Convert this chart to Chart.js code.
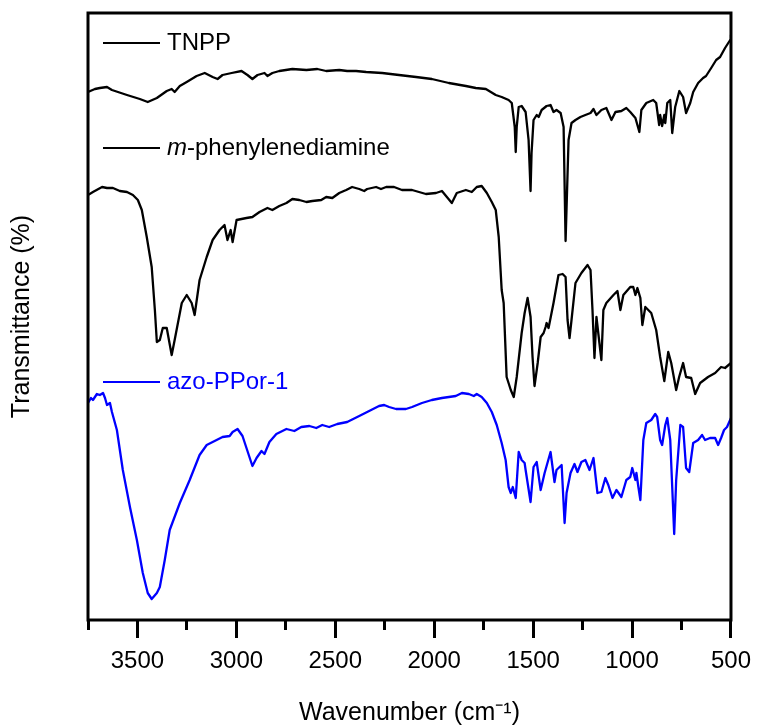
<!DOCTYPE html>
<html>
<head>
<meta charset="utf-8">
<title>FTIR spectra</title>
<script src="https://cdn.jsdelivr.net/npm/chart.js@4.4.1/dist/chart.umd.min.js"></script>
<style>
    html, body { margin: 0; padding: 0; background: #fff; }
    #wrap { width: 760px; height: 728px; }
</style>
</head>
<body>
<div id="wrap"><canvas id="irChart" width="760" height="728"></canvas></div>
<script>
const FONT = "'Liberation Sans', Arial, sans-serif";

// Axis ticks (wavenumber, cm-1)
const majorTicks = [3500, 3000, 2500, 2000, 1500, 1000, 500];
const minorTicks = [3750, 3250, 2750, 2250, 1750, 1250, 750];

// TNPP spectrum (offset transmittance, a.u.)
const tnppWavenumber = [3750, 3715, 3690, 3654, 3629, 3553, 3488, 3448, 3402, 3352, 3327, 3312, 3286, 3251, 3201, 3160, 3120, 3095, 3070, 3024,
    2974, 2944, 2919, 2893, 2858, 2843, 2818, 2783, 2717, 2646, 2591, 2546, 2480, 2440, 2395, 2344, 2263, 2178, 2092, 2012,
    1926, 1840, 1790, 1739, 1689, 1659, 1624, 1608, 1593, 1588, 1583, 1573, 1558, 1538, 1523, 1513, 1508, 1498, 1482, 1472,
    1457, 1432, 1412, 1397, 1382, 1361, 1346, 1336, 1321, 1306, 1286, 1261, 1236, 1210, 1195, 1180, 1155, 1130, 1104, 1084,
    1054, 1029, 1009, 983, 963, 953, 928, 893, 878, 863, 858, 848, 837, 832, 822, 807, 797, 782, 761, 742,
    727, 706, 691, 666, 641, 626, 600, 575, 555, 530, 504, 500];
const tnppT = [52.8, 53.1, 53.2, 53.3, 53.0, 52.5, 52.1, 51.8, 52.2, 52.9, 53.1, 52.8, 53.4, 53.8, 54.4, 54.7, 54.3, 54.1, 54.5, 54.7,
    54.9, 54.5, 54.1, 54.5, 54.7, 54.4, 54.7, 54.9, 55.1, 55.0, 55.1, 54.9, 55.0, 54.9, 54.9, 54.8, 54.7, 54.5, 54.3, 54.1,
    53.7, 53.4, 53.2, 53.1, 52.5, 52.3, 52.0, 51.7, 49.3, 46.8, 49.3, 51.3, 51.4, 50.8, 48.0, 42.9, 46.7, 50.0, 50.5, 50.3,
    51.0, 51.4, 51.5, 50.8, 51.0, 50.7, 49.3, 37.9, 48.0, 49.7, 50.0, 50.3, 50.5, 50.7, 51.1, 50.5, 51.0, 51.2, 50.0, 50.8,
    50.9, 51.2, 50.8, 50.2, 48.8, 51.0, 51.7, 52.0, 51.7, 49.5, 50.5, 49.4, 50.5, 49.7, 51.7, 52.0, 48.7, 51.3, 52.9, 52.3,
    50.7, 51.7, 52.8, 53.7, 54.2, 54.4, 55.2, 56.0, 56.3, 57.2, 58.0, 58.5];

// m-phenylenediamine spectrum
const mpdWavenumber = [3750, 3725, 3679, 3654, 3624, 3589, 3553, 3523, 3498, 3478, 3453, 3428, 3412, 3402, 3387, 3372, 3352, 3327, 3312, 3276,
    3251, 3226, 3211, 3186, 3150, 3120, 3085, 3060, 3045, 3029, 3019, 2999, 2949, 2919, 2883, 2843, 2818, 2783, 2747, 2717,
    2682, 2646, 2616, 2571, 2546, 2515, 2480, 2445, 2415, 2379, 2354, 2339, 2294, 2269, 2243, 2203, 2163, 2112, 2042, 1991,
    1961, 1936, 1911, 1886, 1840, 1810, 1785, 1760, 1734, 1709, 1689, 1674, 1659, 1649, 1634, 1613, 1598, 1583, 1558, 1543,
    1528, 1513, 1503, 1493, 1477, 1462, 1447, 1437, 1432, 1422, 1397, 1372, 1351, 1336, 1326, 1316, 1306, 1286, 1256, 1225,
    1210, 1200, 1190, 1180, 1165, 1155, 1145, 1130, 1094, 1074, 1059, 1044, 1009, 994, 983, 973, 958, 948, 933, 903,
    878, 858, 837, 817, 802, 777, 762, 742, 727, 701, 681, 656, 616, 580, 550, 530, 500];
const mpdT = [42.5, 42.8, 43.3, 43.2, 43.2, 42.9, 42.8, 42.5, 42.0, 41.0, 38.3, 35.3, 31.0, 27.8, 28.0, 29.2, 29.2, 26.5, 28.0, 31.7,
    32.5, 31.7, 30.5, 34.0, 36.3, 38.0, 39.0, 39.5, 38.0, 39.0, 37.8, 40.0, 40.2, 40.3, 40.8, 41.2, 41.0, 41.4, 41.7, 42.1,
    42.0, 41.8, 41.9, 42.0, 42.3, 42.2, 42.7, 43.0, 43.3, 43.1, 42.9, 43.1, 43.3, 43.1, 43.3, 43.3, 43.0, 43.0, 42.6, 42.7,
    42.9, 42.3, 41.7, 42.7, 43.0, 42.8, 43.3, 43.4, 42.7, 41.8, 41.0, 38.3, 33.0, 31.7, 24.3, 23.0, 22.3, 24.3, 28.7, 30.7,
    32.2, 30.3, 26.3, 23.4, 25.7, 28.3, 28.7, 29.3, 29.7, 29.2, 31.7, 34.5, 34.6, 34.3, 30.0, 28.2, 30.0, 33.7, 34.7, 35.5,
    35.0, 31.0, 26.2, 30.3, 27.7, 26.0, 31.0, 31.7, 32.5, 32.9, 31.0, 32.5, 33.3, 33.3, 32.5, 33.2, 32.2, 29.5, 31.3, 30.7,
    29.0, 26.3, 23.9, 26.8, 25.7, 23.0, 24.3, 25.7, 24.3, 24.2, 22.6, 23.7, 24.3, 24.7, 25.3, 25.2, 25.7];

// azo-PPor-1 spectrum
const azoWavenumber = [3750, 3735, 3725, 3705, 3690, 3674, 3664, 3654, 3639, 3629, 3604, 3574, 3538, 3503, 3473, 3448, 3428, 3402, 3387, 3362,
    3337, 3286, 3236, 3186, 3150, 3100, 3070, 3034, 3019, 2994, 2969, 2949, 2919, 2898, 2873, 2858, 2833, 2798, 2747, 2707,
    2672, 2631, 2596, 2566, 2531, 2490, 2440, 2379, 2329, 2279, 2253, 2228, 2193, 2143, 2112, 2062, 2012, 1961, 1926, 1891,
    1860, 1825, 1800, 1785, 1760, 1734, 1709, 1684, 1659, 1639, 1624, 1613, 1603, 1588, 1573, 1558, 1543, 1538, 1513, 1498,
    1482, 1462, 1442, 1412, 1392, 1382, 1356, 1341, 1331, 1311, 1291, 1276, 1256, 1236, 1215, 1195, 1175, 1155, 1135, 1120,
    1099, 1079, 1054, 1029, 1009, 999, 983, 978, 968, 958, 943, 928, 903, 883, 873, 858, 848, 832, 822, 807,
    787, 777, 756, 742, 727, 711, 691, 666, 646, 631, 606, 580, 565, 550, 535, 520, 500];
const azoT = [21.7, 22.2, 22.0, 22.6, 22.5, 22.7, 22.2, 21.5, 21.7, 20.8, 19.0, 15.0, 11.3, 8.0, 4.7, 2.7, 2.1, 2.7, 3.3, 6.0,
    9.0, 11.7, 14.0, 16.5, 17.5, 18.0, 18.3, 18.4, 18.8, 19.1, 18.4, 17.2, 15.4, 16.2, 16.9, 16.6, 17.8, 18.6, 19.1, 18.9,
    19.3, 19.4, 19.2, 19.5, 19.3, 19.6, 19.8, 20.4, 20.9, 21.4, 21.5, 21.3, 21.1, 21.1, 21.3, 21.7, 22.0, 22.2, 22.3, 22.4,
    22.7, 22.6, 22.4, 22.6, 22.3, 21.7, 20.8, 19.5, 17.7, 16.0, 13.3, 12.7, 13.3, 12.2, 16.8, 16.0, 15.7, 15.0, 11.8, 15.3,
    15.8, 13.0, 14.7, 16.8, 13.8, 15.0, 15.5, 9.7, 12.7, 14.7, 15.6, 14.8, 15.8, 16.0, 15.0, 16.2, 12.7, 12.8, 14.2, 13.5,
    12.2, 13.0, 12.3, 14.0, 14.3, 15.2, 14.0, 14.7, 13.3, 12.0, 18.0, 19.7, 20.0, 20.6, 20.3, 18.0, 17.5, 19.5, 20.2, 18.0,
    8.6, 14.0, 19.5, 19.3, 15.2, 14.8, 17.7, 18.0, 18.5, 18.0, 18.2, 18.2, 17.5, 18.2, 19.0, 19.3, 20.2];

function toPoints(xs, ys) {
    return xs.map((x, i) => ({ x: x, y: ys[i] }));
}

// Box round the plot area
const framePlugin = {
    id: 'frame',
    afterDraw(chart) {
        const { ctx, chartArea: a } = chart;
        ctx.save();
        ctx.lineWidth = 3;
        ctx.strokeStyle = '#000';
        ctx.strokeRect(a.left, a.top, a.right - a.left, a.bottom - a.top);
        ctx.restore();
    }
};

// Labels sitting next to each trace, inside the plot
const inlineLegend = {
    id: 'inlineLegend',
    afterDraw(chart, args, opts) {
        const { ctx, chartArea: a } = chart;
        ctx.save();
        ctx.textBaseline = 'middle';
        chart.data.datasets.forEach((ds, i) => {
            const y = a.top + opts.offsets[i];
            const x0 = a.left + opts.lineStart;
            ctx.strokeStyle = ds.borderColor;
            ctx.lineWidth = 2;
            ctx.beginPath();
            ctx.moveTo(x0, y);
            ctx.lineTo(x0 + opts.lineLength, y);
            ctx.stroke();
            let x = x0 + opts.lineLength + opts.gap;
            ctx.fillStyle = ds.borderColor;
            (ds.labelParts || [{ text: ds.label }]).forEach(p => {
                ctx.font = (p.italic ? 'italic ' : '') + opts.fontSize + 'px ' + FONT;
                ctx.fillText(p.text, x, y);
                x += ctx.measureText(p.text).width;
            });
        });
        ctx.restore();
    }
};

Chart.defaults.font.family = FONT;
Chart.defaults.color = '#000';

const ctx = document.getElementById('irChart').getContext('2d');
const irChart = new Chart(ctx, {
    type: 'line',
    data: {
        datasets: [{
            label: 'TNPP',
            data: toPoints(tnppWavenumber, tnppT),
            borderColor: '#000000',
            borderWidth: 2.3,
            pointRadius: 0,
            tension: 0
        }, {
            label: 'm-phenylenediamine',
            labelParts: [{ text: 'm', italic: true }, { text: '-phenylenediamine' }],
            data: toPoints(mpdWavenumber, mpdT),
            borderColor: '#000000',
            borderWidth: 2.3,
            pointRadius: 0,
            tension: 0
        }, {
            label: 'azo-PPor-1',
            data: toPoints(azoWavenumber, azoT),
            borderColor: '#0000ff',
            borderWidth: 2.3,
            pointRadius: 0,
            tension: 0
        }]
    },
    options: {
        responsive: false,
        animation: false,
        devicePixelRatio: 1,
        layout: { padding: { left: 0, top: 13, right: 27, bottom: 0 } },
        elements: { line: { borderJoinStyle: 'round', borderCapStyle: 'round' } },
        plugins: {
            legend: { display: false },
            tooltip: { enabled: false },
            inlineLegend: { offsets: [30, 135, 369], lineStart: 15, lineLength: 57, gap: 7, fontSize: 24 }
        },
        scales: {
            x: {
                type: 'linear',
                position: 'bottom',
                reverse: true,
                min: 500,
                max: 3750,
                weight: 1,
                afterBuildTicks: s => { s.ticks = majorTicks.map(v => ({ value: v })); },
                afterFit: s => { s.height = 108; },
                ticks: {
                    font: { size: 24 },
                    color: '#000',
                    padding: 9,
                    maxRotation: 0,
                    autoSkip: false,
                    callback: v => String(v)
                },
                grid: { drawOnChartArea: false, tickLength: 18, tickWidth: 3, tickColor: '#000' },
                border: { display: false },
                title: {
                    display: true,
                    text: 'Wavenumber (cm⁻¹)',
                    font: { size: 25 },
                    color: '#000',
                    padding: { top: 0, bottom: 0 }
                }
            },
            xMinor: {
                type: 'linear',
                position: 'bottom',
                reverse: true,
                min: 500,
                max: 3750,
                weight: 0,
                afterBuildTicks: s => { s.ticks = minorTicks.map(v => ({ value: v })); },
                afterFit: s => { s.height = 0; },
                ticks: { display: false },
                grid: { drawOnChartArea: false, tickLength: 10, tickWidth: 3, tickColor: '#000' },
                border: { display: false }
            },
            y: {
                min: 0,
                max: 60.7,
                afterFit: s => { s.width = 88; },
                ticks: { display: false },
                grid: { display: false },
                border: { display: false },
                title: {
                    display: true,
                    text: 'Transmittance (%)',
                    font: { size: 25 },
                    color: '#000',
                    padding: { top: 7, bottom: 0 }
                }
            }
        }
    },
    plugins: [framePlugin, inlineLegend]
});
</script>
</body>
</html>
